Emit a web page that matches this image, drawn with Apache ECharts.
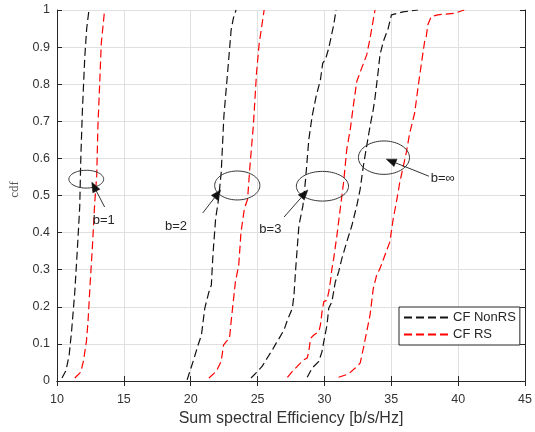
<!DOCTYPE html>
<html><head><meta charset="utf-8">
<script src="https://cdn.jsdelivr.net/npm/echarts@6/dist/echarts.min.js"></script>
<style>html,body{margin:0;padding:0;background:#fff}#c{width:535px;height:432px}</style>
</head><body><div id="c"></div><script>
// ---- data ----
const xTicks = [10, 15, 20, 25, 30, 35, 40, 45];
const yTicks = [0, 0.1, 0.2, 0.3, 0.4, 0.5, 0.6, 0.7, 0.8, 0.9, 1];

const nonRS_b1 = [[10.37,0.008],[10.67,0.028],[10.91,0.07],[11.09,0.134],[11.33,0.24],[11.53,0.36],[11.70,0.47],[11.78,0.60],[11.9,0.73],[12.08,0.875],[12.22,0.95],[12.39,1.0]];
const rs_b1 = [[11.33,0.008],[11.78,0.024],[11.98,0.054],[12.2,0.107],[12.32,0.16],[12.47,0.258],[12.64,0.357],[12.82,0.48],[12.97,0.553],[13.06,0.687],[13.19,0.80],[13.31,0.91],[13.56,1.0]];
const nonRS_b2 = [[19.73,0.003],[20.18,0.053],[20.55,0.097],[20.8,0.124],[21.05,0.196],[21.36,0.24],[21.54,0.258],[21.66,0.339],[21.86,0.437],[22.08,0.49],[22.28,0.562],[22.48,0.714],[22.73,0.82],[22.9,0.893],[23.02,0.946],[23.19,0.978],[23.39,1.0]];
const rs_b2 = [[21.36,0.008],[21.91,0.026],[22.28,0.053],[22.45,0.097],[22.65,0.106],[22.9,0.115],[23.02,0.16],[23.34,0.267],[23.59,0.312],[23.76,0.401],[24.01,0.464],[24.25,0.49],[24.43,0.58],[24.68,0.687],[24.92,0.83],[25.12,0.91],[25.49,1.0]];
const nonRS_b3 = [[24.51,0.008],[25.0,0.026],[25.35,0.04],[25.72,0.062],[26.09,0.083],[26.39,0.102],[26.61,0.115],[26.98,0.138],[27.23,0.164],[27.6,0.196],[27.72,0.231],[27.85,0.303],[28.09,0.419],[28.39,0.473],[28.59,0.544],[28.83,0.651],[29.08,0.714],[29.38,0.768],[29.7,0.812],[29.87,0.857],[30.07,0.866],[30.32,0.897],[30.69,0.96],[30.87,1.0]];
const rs_b3 = [[27.23,0.01],[27.6,0.026],[28.09,0.044],[28.46,0.057],[28.71,0.062],[28.83,0.08],[28.96,0.115],[29.21,0.124],[29.58,0.133],[29.7,0.151],[29.82,0.187],[29.95,0.214],[30.19,0.218],[30.32,0.24],[30.44,0.267],[30.56,0.303],[30.69,0.33],[30.93,0.392],[31.18,0.464],[31.43,0.535],[31.67,0.625],[31.93,0.678],[32.17,0.745],[32.42,0.808],[32.79,0.844],[33.16,0.879],[33.41,0.924],[33.78,1.0]];
const nonRS_binf = [[28.71,0.01],[29.08,0.035],[29.58,0.053],[29.82,0.08],[29.95,0.106],[30.19,0.151],[30.32,0.196],[30.56,0.214],[30.81,0.267],[31.06,0.294],[31.3,0.33],[31.67,0.375],[32.05,0.419],[32.42,0.473],[32.67,0.517],[32.91,0.58],[33.16,0.634],[33.41,0.687],[33.65,0.732],[33.78,0.763],[34.02,0.835],[34.15,0.879],[34.4,0.915],[34.77,0.951],[35.01,0.987],[35.88,0.995],[36.99,1.0]];
const rs_binf = [[31.06,0.01],[31.8,0.019],[32.3,0.035],[32.67,0.048],[32.91,0.088],[33.16,0.133],[33.41,0.178],[33.65,0.249],[33.9,0.285],[34.15,0.303],[34.52,0.339],[34.89,0.375],[35.14,0.437],[35.38,0.482],[35.63,0.535],[36.12,0.616],[36.38,0.669],[36.75,0.723],[36.99,0.79],[37.24,0.853],[37.49,0.915],[37.61,0.928],[37.73,0.96],[37.98,0.982],[38.47,0.987],[39.71,0.991],[40.45,1.0]];

const seriesNames = ['CF NonRS', 'CF RS'];
const xLabel = 'Sum spectral Efficiency [b/s/Hz]';
const yLabel = 'cdf';

// annotations in data space: ellipse centre / semi-axes, arrow tail -> tip, label anchor
const annLabels = ['b=1', 'b=2', 'b=3', 'b=\u221E'];
const annEllipse = [[12.19,0.544,1.30,0.024],[23.48,0.527,1.69,0.039],[29.85,0.525,1.95,0.040],[34.45,0.602,1.91,0.045]];
const annArrowFrom = [[13.56,0.469],[20.90,0.453],[26.98,0.442],[37.81,0.552]];
const annArrowTo = [[12.60,0.536],[22.24,0.515],[28.76,0.515],[34.62,0.598]];
const annText = [[12.67,0.432],[18.08,0.416],[25.13,0.408],[37.95,0.547]];

// ---- chart ----
const BLACK = '#111111', RED = '#ff0000', AXC = '#262626';
function lineSeries(name, data, color) {
  return { name: name, type: 'line', data: data, symbol: 'none', animation: false, z: 3,
    lineStyle: { color: color, width: 1.2, type: [8, 4] }, itemStyle: { color: color } };
}
const chart = echarts.init(document.getElementById('c'), null, { renderer: 'canvas' });
const axisCommon = {
  type: 'value', axisLine: { show: true, lineStyle: { color: AXC, width: 1 } },
  axisTick: { show: true, inside: true, length: 5, lineStyle: { color: AXC } }
};
chart.setOption({
  animation: false,
  backgroundColor: '#fff',
  grid: { left: 56, right: 7, top: 10, bottom: 49, containLabel: false },
  legend: {
    data: seriesNames, left: 399, top: 307, orient: 'vertical',
    itemWidth: 44, itemHeight: 10, itemGap: 4, padding: [4, 4, 4, 4],
    borderColor: AXC, borderWidth: 1, backgroundColor: '#fff', borderRadius: 0,
    itemStyle: { opacity: 0 },
    textStyle: { fontSize: 13, color: AXC, fontFamily: 'Liberation Sans' }
  },
  xAxis: [
    Object.assign({}, axisCommon, { position: 'bottom', min: xTicks[0], max: xTicks[xTicks.length-1], interval: 5,
      name: xLabel, nameLocation: 'middle', nameGap: 30,
      nameTextStyle: { fontSize: 16, color: '#333', fontFamily: 'Liberation Sans' },
      axisLabel: { fontSize: 12.5, color: '#333', margin: 12, fontFamily: 'Liberation Sans' },
      splitLine: { show: true, lineStyle: { color: '#e0e0e0', width: 1 } } }),
    Object.assign({}, axisCommon, { position: 'top', min: xTicks[0], max: xTicks[xTicks.length-1], interval: 5,
      axisLabel: { show: false }, splitLine: { show: false } })
  ],
  yAxis: [
    Object.assign({}, axisCommon, { position: 'left', min: yTicks[0], max: yTicks[yTicks.length-1], interval: 0.1,
      name: yLabel, nameLocation: 'middle', nameGap: 36,
      nameTextStyle: { fontSize: 13, color: '#555', fontFamily: 'Liberation Serif', padding: [0, 0, 0, 12] },
      axisLabel: { fontSize: 12.5, color: '#333', margin: 7, fontFamily: 'Liberation Sans' },
      splitLine: { show: true, lineStyle: { color: '#e0e0e0', width: 1 } } }),
    Object.assign({}, axisCommon, { position: 'right', min: yTicks[0], max: yTicks[yTicks.length-1], interval: 0.1,
      axisLabel: { show: false }, splitLine: { show: false } })
  ],
  series: [
    lineSeries(seriesNames[0], nonRS_b1, BLACK),
    lineSeries(seriesNames[1], rs_b1, RED),
    lineSeries(seriesNames[0], nonRS_b2, BLACK),
    lineSeries(seriesNames[1], rs_b2, RED),
    lineSeries(seriesNames[0], nonRS_b3, BLACK),
    lineSeries(seriesNames[1], rs_b3, RED),
    lineSeries(seriesNames[0], nonRS_binf, BLACK),
    lineSeries(seriesNames[1], rs_binf, RED),
    {
      type: 'custom', name: 'annotations', coordinateSystem: 'cartesian2d', silent: true, z: 5, clip: false,
      data: annEllipse.map(function (e) { return [e[0], e[1]]; }),
      renderItem: function (params, api) {
        const i = params.dataIndex;
        const e = annEllipse[i];
        const c = api.coord([e[0], e[1]]);
        const ee = api.coord([e[0] + e[2], e[1] + e[3]]);
        const rx = ee[0] - c[0], ry = c[1] - ee[1];
        const pts = [];
        for (let k = 0; k < 72; k++) {
          const t = k / 72 * Math.PI * 2;
          pts.push([c[0] + rx * Math.cos(t), c[1] + ry * Math.sin(t)]);
        }
        const p0 = api.coord(annArrowFrom[i]), p1 = api.coord(annArrowTo[i]);
        const ang = Math.atan2(p1[1] - p0[1], p1[0] - p0[0]);
        const L = 10, W = 4;
        const bx = p1[0] - L * Math.cos(ang), by = p1[1] - L * Math.sin(ang);
        const head = [[p1[0], p1[1]],
          [bx + W * Math.sin(ang), by - W * Math.cos(ang)],
          [bx - W * Math.sin(ang), by + W * Math.cos(ang)]];
        const tp = api.coord(annText[i]);
        return { type: 'group', children: [
          { type: 'polygon', shape: { points: pts }, style: { fill: 'none', stroke: '#333', lineWidth: 1 } },
          { type: 'line', shape: { x1: p0[0], y1: p0[1], x2: bx, y2: by }, style: { stroke: '#333', lineWidth: 1 } },
          { type: 'polygon', shape: { points: head }, style: { fill: '#111', stroke: '#111', lineWidth: 0.5 } },
          { type: 'text', x: tp[0], y: tp[1], style: { text: annLabels[i], fill: '#262626', fontSize: 13,
              fontFamily: 'Liberation Sans', align: 'left', verticalAlign: 'middle' } }
        ] };
      }
    }
  ]
});
</script></body></html>
